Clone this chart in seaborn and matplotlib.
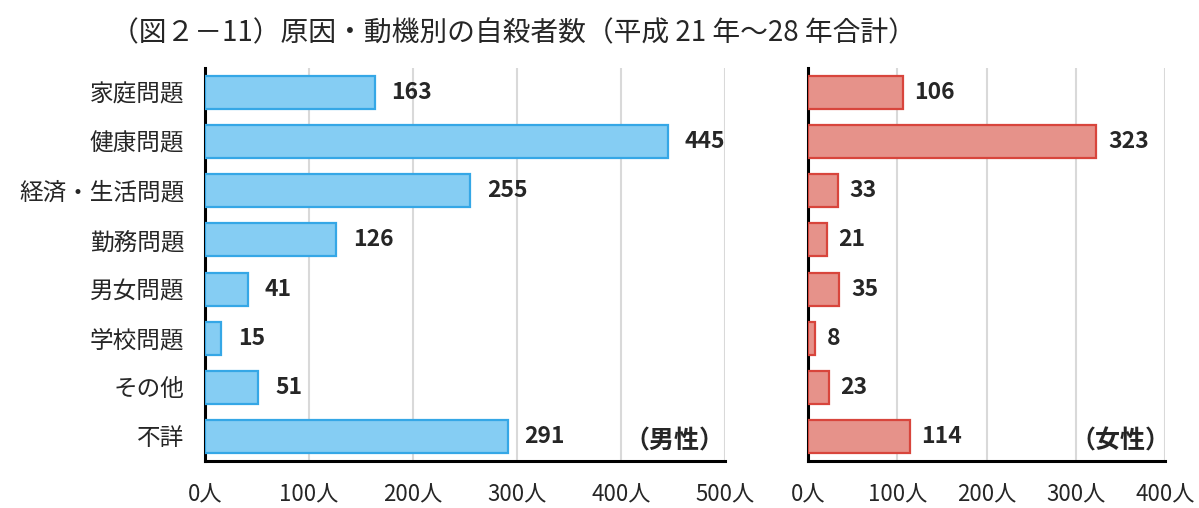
import pandas as pd
import seaborn as sns
import matplotlib.pyplot as plt

# データ
categories = ['家庭問題', '健康問題', '経済・生活問題', '勤務問題', '男女問題', '学校問題', 'その他', '不詳']
male = [163, 445, 255, 126, 41, 15, 51, 291]
female = [106, 323, 33, 21, 35, 8, 23, 114]
male_ticks = [0, 100, 200, 300, 400, 500]
female_ticks = [0, 100, 200, 300, 400]

df = pd.DataFrame({'原因': categories, '男性': male, '女性': female})

sns.set_theme(style='white')
plt.rcParams['font.family'] = ['Noto Sans CJK JP', 'DejaVu Sans']

fig = plt.figure(figsize=(11.99, 5.08), dpi=100)
ax1 = fig.add_axes([0.171, 0.0925, 0.4337, 0.7736])
ax2 = fig.add_axes([0.674, 0.0925, 0.2977, 0.7736])

panels = [
    (ax1, '男性', male_ticks, '#85CDF3', '#35A7E6', '（男性）', 0.998),
    (ax2, '女性', female_ticks, '#E6928A', '#D8453C', '（女性）', 1.015),
]

for ax, col, ticks, fill, edge, label, lx in panels:
    sns.barplot(data=df, y='原因', x=col, orient='h', ax=ax,
                color=fill, edgecolor=edge, linewidth=1.6, width=0.67,
                saturation=1, zorder=3)
    ax.set_xlim(ticks[0], ticks[-1])
    ax.set_ylim(7.5, -0.5)
    ax.set_xticks(ticks)
    ax.set_xticklabels([f'{t}人' for t in ticks], fontsize=16)
    ax.tick_params(axis='x', length=0, pad=16)
    ax.tick_params(axis='y', length=0, pad=15)
    ax.grid(axis='x', color='#D9D9D9', linewidth=1.5, zorder=0)
    ax.set_xlabel('')
    ax.set_ylabel('')
    for s in ['top', 'right']:
        ax.spines[s].set_visible(False)
    for s in ['left', 'bottom']:
        ax.spines[s].set_color('black')
        ax.spines[s].set_linewidth(2.2)
    step = ticks[-1] / 520 * 17
    for i, v in enumerate(df[col]):
        ax.text(v + step, i, str(v), va='center', ha='left',
                fontsize=16.5, fontweight='bold', zorder=4)
    ax.text(lx, 0.05, label, transform=ax.transAxes, ha='right', va='center',
            fontsize=18, fontweight='bold', clip_on=False)

ax1.set_yticks(range(len(categories)))
ax1.set_yticklabels(categories, fontsize=17)
ax2.set_yticks([])

fig.text(0.428, 0.935, '（図２－11）原因・動機別の自殺者数（平成 21 年～28 年合計）',
         ha='center', va='center', fontsize=20)

plt.savefig('out.png', dpi=100)
